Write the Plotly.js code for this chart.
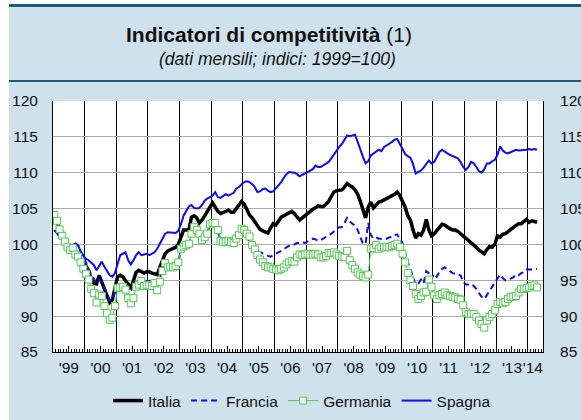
<!DOCTYPE html>
<html><head><meta charset="utf-8">
<script src="https://cdn.plot.ly/plotly-3.0.1.min.js"></script>
<style>html,body{margin:0;padding:0;background:#fff;}#chart{width:581px;height:420px;}</style>
</head><body><div id="chart"></div>
<script>
const startYear = 1999;
const yearLabels = ["'99","'00","'01","'02","'03","'04","'05","'06","'07","'08","'09","'10","'11","'12","'13","'14"];
const seriesNames = ["Italia","Francia","Germania","Spagna"];

const italia = [
104.0,103.2,102.1,101.2,100.4,99.5,99.2,99.5,98.6,98.3,97.6,97.3,
97.0,96.3,95.2,94.6,94.5,95.7,94.8,93.8,92.8,91.9,92.3,93.8,
95.5,95.7,95.5,94.9,94.5,93.8,95.0,96.1,96.4,96.2,96.0,96.2,
96.2,96.0,95.9,95.8,96.8,97.7,98.7,99.1,99.3,99.5,99.6,100.0,
101.2,102.0,102.0,102.0,103.8,104.0,103.7,103.0,103.4,104.0,104.6,105.3,
105.8,105.2,104.6,104.3,104.4,104.6,104.8,104.5,104.5,105.0,105.6,106.0,
105.6,104.8,104.1,103.7,103.2,102.6,102.1,101.9,101.7,101.6,102.3,102.9,
102.7,103.3,103.8,104.0,104.2,104.4,104.6,104.3,103.8,103.4,103.7,104.0,
104.4,104.7,104.9,105.1,105.4,105.3,105.3,105.6,106.0,106.7,107.3,107.5,
107.5,107.6,108.0,108.5,108.2,108.0,107.6,107.0,106.0,104.9,103.7,105.2,
105.9,105.1,105.6,105.9,106.0,106.2,106.3,106.5,106.7,107.0,107.3,106.8,
106.0,105.2,104.0,103.4,102.0,100.9,101.5,101.3,102.0,103.5,102.0,101.2,
101.5,102.0,102.5,102.8,102.7,102.4,102.2,102.0,102.0,101.8,101.5,101.2,
100.8,100.5,100.3,100.0,99.6,99.2,98.9,98.7,99.3,99.7,99.6,100.0,
101.2,101.0,101.4,101.5,101.8,102.1,102.3,102.6,102.9,102.9,103.2,103.5,
103.1,103.3,103.2,103.1];

const francia = [
102.0,101.6,101.0,100.7,100.3,99.5,99.6,99.9,100.1,99.9,99.0,98.4,
97.4,96.6,95.8,95.2,94.6,95.1,94.8,94.0,93.0,92.2,92.4,93.4,
94.2,94.5,94.6,94.3,93.8,93.5,94.1,94.7,95.0,95.1,94.8,94.9,
94.9,94.8,95.0,94.7,95.3,96.6,97.3,97.1,97.2,97.1,97.3,97.5,
99.2,99.5,99.8,100.0,101.3,102.1,101.8,101.3,100.8,101.0,101.6,102.7,
102.8,102.8,101.8,100.6,100.5,100.6,100.6,100.5,100.5,100.9,101.3,101.9,
101.6,101.0,100.4,99.9,99.4,99.1,98.9,98.8,98.6,98.4,98.3,98.5,
98.6,98.8,99.0,99.3,99.6,99.8,100.0,100.0,100.2,100.2,100.3,100.2,
100.4,100.6,100.8,100.7,100.5,100.6,100.8,101.0,101.3,101.5,101.8,102.2,
102.4,102.4,103.0,103.7,103.2,102.9,102.6,102.0,101.0,100.1,100.1,103.0,
101.3,100.8,101.0,100.8,100.8,100.8,100.8,101.0,101.0,101.3,101.4,100.8,
100.2,98.8,97.5,96.6,95.3,94.3,94.5,95.1,94.6,96.3,96.0,95.2,
95.9,95.5,96.2,96.6,96.8,96.5,96.2,96.0,95.9,95.8,95.7,94.8,
94.4,94.4,94.5,94.2,93.8,93.2,92.7,92.4,92.9,93.5,94.1,94.7,
95.2,95.8,95.3,95.0,95.1,95.2,95.4,95.8,95.7,96.0,96.1,96.5,
96.5,96.4,96.5,96.6];

const germania = [
104.1,103.3,102.1,101.2,100.4,99.6,99.2,99.5,98.6,98.3,97.5,96.6,
95.9,95.1,93.8,93.2,91.9,93.0,92.8,91.4,90.4,89.5,89.8,91.4,
93.9,94.0,94.1,93.7,92.5,91.8,92.5,94.1,94.4,94.9,94.2,94.3,
94.3,94.2,94.6,93.6,94.8,96.3,97.4,96.8,96.9,96.8,97.0,97.5,
99.4,99.7,99.9,100.1,101.5,102.4,102.0,101.5,100.6,101.0,101.5,102.8,
103.0,103.0,102.0,100.5,100.3,100.4,100.5,100.3,100.2,100.8,101.3,102.2,
102.0,101.5,101.1,99.9,99.3,98.5,97.9,97.5,97.0,96.8,96.8,96.6,
96.5,96.4,96.6,96.8,97.2,97.5,97.7,97.6,98.2,98.6,98.5,98.6,
98.7,98.6,98.6,98.7,98.6,98.2,98.2,98.4,98.8,98.8,98.9,98.6,
98.4,98.3,98.2,99.1,97.8,97.1,96.6,96.1,95.8,95.6,95.4,95.8,
99.4,99.5,99.9,99.4,99.6,99.6,99.7,99.6,99.8,99.9,100.1,99.6,
98.7,97.5,96.0,95.0,94.2,93.1,92.4,92.8,93.3,93.4,95.1,94.1,
92.9,92.4,92.9,93.1,93.3,92.9,92.8,92.7,92.6,92.4,92.3,91.5,
90.6,90.3,90.3,90.3,89.9,89.4,88.9,88.4,89.4,89.9,90.3,90.8,
91.7,92.0,91.8,92.0,92.4,92.7,92.7,92.8,93.3,93.8,93.8,93.9,
94.0,94.2,94.3,94.0];

const spagna = [
102.0,101.6,101.0,100.7,100.3,99.5,99.6,99.9,100.1,99.9,99.0,98.4,
98.0,97.8,97.4,97.1,96.4,97.1,97.6,96.9,96.2,95.7,95.5,96.0,
97.3,98.5,98.7,98.9,97.8,97.2,97.8,98.5,98.9,98.5,98.6,98.7,
98.5,98.7,98.9,99.4,100.1,100.9,101.5,101.7,101.7,101.6,101.6,101.9,
102.8,104.0,104.7,105.3,105.5,105.1,105.0,105.1,105.5,106.1,106.4,106.6,
106.8,107.3,106.6,106.5,106.7,107.0,106.8,107.0,107.2,107.8,108.0,108.4,
108.7,108.8,108.7,108.4,108.0,107.3,107.4,107.7,107.8,107.5,107.3,107.4,
107.8,108.2,108.7,109.3,109.8,110.1,110.1,110.0,109.8,109.5,109.7,109.9,
110.1,110.2,110.5,111.0,110.8,110.8,111.0,111.2,111.5,112.0,112.6,113.2,
113.6,114.0,114.7,115.2,115.1,115.2,115.3,114.3,113.1,112.2,111.3,111.6,
112.4,112.7,113.0,113.2,113.0,113.6,113.8,114.0,114.3,114.6,114.7,114.0,
113.3,112.6,112.3,112.1,111.2,109.9,110.1,110.3,110.7,111.2,111.7,111.3,
111.5,112.2,112.9,113.2,112.9,112.7,112.5,112.3,112.1,112.0,111.5,110.8,
110.4,110.8,111.5,111.3,110.8,110.2,110.0,110.5,111.3,111.3,111.6,111.8,
112.5,113.7,113.1,112.8,112.7,112.9,113.0,113.2,113.1,113.1,113.2,113.2,
113.3,113.2,113.3,113.2];

// monthly time positions (middle of each month)
const xs = italia.map((_, i) => startYear + (i + 0.5) / 12);

// figure geometry
const W = 581, H = 420, L = 53, R = 38, T = 101, B = 68;
const pw = W - L - R, ph = H - T - B;
const px = v => (v - L) / pw;
const py = v => (H - B - v) / ph;

const xRange = [1999, 2014.48];
const yRange = [85, 120];
const yearLines = []; for (let y = 2000; y <= 2014; y++) yearLines.push(y);
const monthTicks = []; for (let m = 1; m < 186; m++) { if (m % 6 !== 0) monthTicks.push(startYear + m / 12); }
const halfYears = []; for (let y = 1999; y <= 2013; y++) halfYears.push(y + 0.5);
const labelPos = yearLabels.map((_, i) => i < 15 ? startYear + i + 0.5 : startYear + i + 0.16);
const yTicks = [85, 90, 95, 100, 105, 110, 115, 120];

const FONT = 'Liberation Sans, Arial, Helvetica, sans-serif';
const BLUE = 'rgb(12,12,245)';
const GREEN = 'rgb(80,200,80)';
const TF = {size: 15.5, family: FONT, color: '#111'};

const traces = [
  {x: xs, y: italia, name: seriesNames[0], mode: 'lines', xaxis: 'x', yaxis: 'y',
   line: {color: '#000', width: 3.5}},
  {x: xs, y: francia, name: seriesNames[1], mode: 'lines', xaxis: 'x2', yaxis: 'y',
   line: {color: BLUE, width: 2, dash: '6px,4px'}},
  {x: xs, y: germania, name: seriesNames[2], mode: 'lines+markers', xaxis: 'x3', yaxis: 'y',
   line: {color: GREEN, width: 1},
   marker: {symbol: 'square', size: 7, color: '#fff', line: {color: GREEN, width: 1}}},
  {x: xs, y: spagna, name: seriesNames[3], mode: 'lines', xaxis: 'x', yaxis: 'y2',
   line: {color: BLUE, width: 2}}
];

const layout = {
  width: W, height: H,
  margin: {l: L, r: R, t: T, b: B, pad: 0, autoexpand: false},
  paper_bgcolor: '#cfe1eb', plot_bgcolor: '#fff',
  font: {family: FONT, size: 15.5, color: '#111'},
  showlegend: true,
  legend: {orientation: 'h', xref: 'container', yref: 'container', x: 302 / W, xanchor: 'center',
           y: (H - 401) / H, yanchor: 'middle',
           bgcolor: 'rgba(0,0,0,0)', font: TF, itemwidth: 30},
  xaxis: {range: xRange, tickmode: 'array', tickvals: yearLines, showticklabels: false, ticks: '',
          showgrid: true, gridcolor: '#000', gridwidth: 1, showline: true, linecolor: '#000', linewidth: 1,
          zeroline: false,
          minor: {tickmode: 'array', tickvals: monthTicks, ticks: 'inside', ticklen: 3, tickwidth: 1, tickcolor: '#000', showgrid: false}},
  xaxis2: {overlaying: 'x', anchor: 'y', side: 'bottom', range: xRange, tickmode: 'array', tickvals: halfYears,
           showticklabels: false, ticks: 'inside', ticklen: 6, tickwidth: 1, tickcolor: '#000',
           showgrid: false, showline: false, zeroline: false},
  xaxis3: {overlaying: 'x', anchor: 'y', side: 'bottom', range: xRange, tickmode: 'array', tickvals: labelPos,
           ticktext: yearLabels, ticks: '', showgrid: false, showline: false, zeroline: false, tickangle: 0,
           tickfont: TF, ticklabelstandoff: 4},
  yaxis: {range: yRange, tickmode: 'array', tickvals: yTicks, showgrid: true, gridcolor: '#aaaaaa', gridwidth: 1,
          showline: true, linecolor: '#000', linewidth: 1, ticks: '', zeroline: false,
          tickfont: TF, ticklabelstandoff: 11},
  yaxis2: {overlaying: 'y', side: 'right', anchor: 'x', range: yRange, tickmode: 'array', tickvals: yTicks,
           showgrid: false, showline: true, linecolor: '#000', linewidth: 1, ticks: '', zeroline: false,
           tickfont: TF, ticklabelstandoff: 13},
  shapes: [
    {type: 'rect', xref: 'paper', yref: 'paper', x0: px(0), x1: px(9), y0: py(H), y1: py(0), fillcolor: '#fff', line: {width: 0}, layer: 'below'},
    {type: 'rect', xref: 'paper', yref: 'paper', x0: px(9), x1: px(W), y0: py(4), y1: py(0), fillcolor: '#fff', line: {width: 0}, layer: 'below'},
    {type: 'line', xref: 'paper', yref: 'paper', x0: px(9), x1: px(W), y0: py(5.5), y1: py(5.5), line: {color: '#1b5b78', width: 3}},
    {type: 'line', xref: 'paper', yref: 'paper', x0: px(9), x1: px(W), y0: py(81), y1: py(81), line: {color: '#1b5b78', width: 2}}
  ],
  annotations: [
    {xref: 'paper', yref: 'paper', x: px(269), y: py(34), xanchor: 'center', yanchor: 'middle', showarrow: false,
     text: '<b>Indicatori di competitività</b> (1)', font: {size: 21, family: FONT, color: '#111'}},
    {xref: 'paper', yref: 'paper', x: px(277), y: py(59.5), xanchor: 'center', yanchor: 'middle', showarrow: false,
     text: '<i>(dati mensili; indici: 1999=100)</i>', font: {size: 17.5, family: FONT, color: '#111'}}
  ]
};

Plotly.newPlot('chart', traces, layout, {staticPlot: true, displayModeBar: false});
</script>
</body></html>
